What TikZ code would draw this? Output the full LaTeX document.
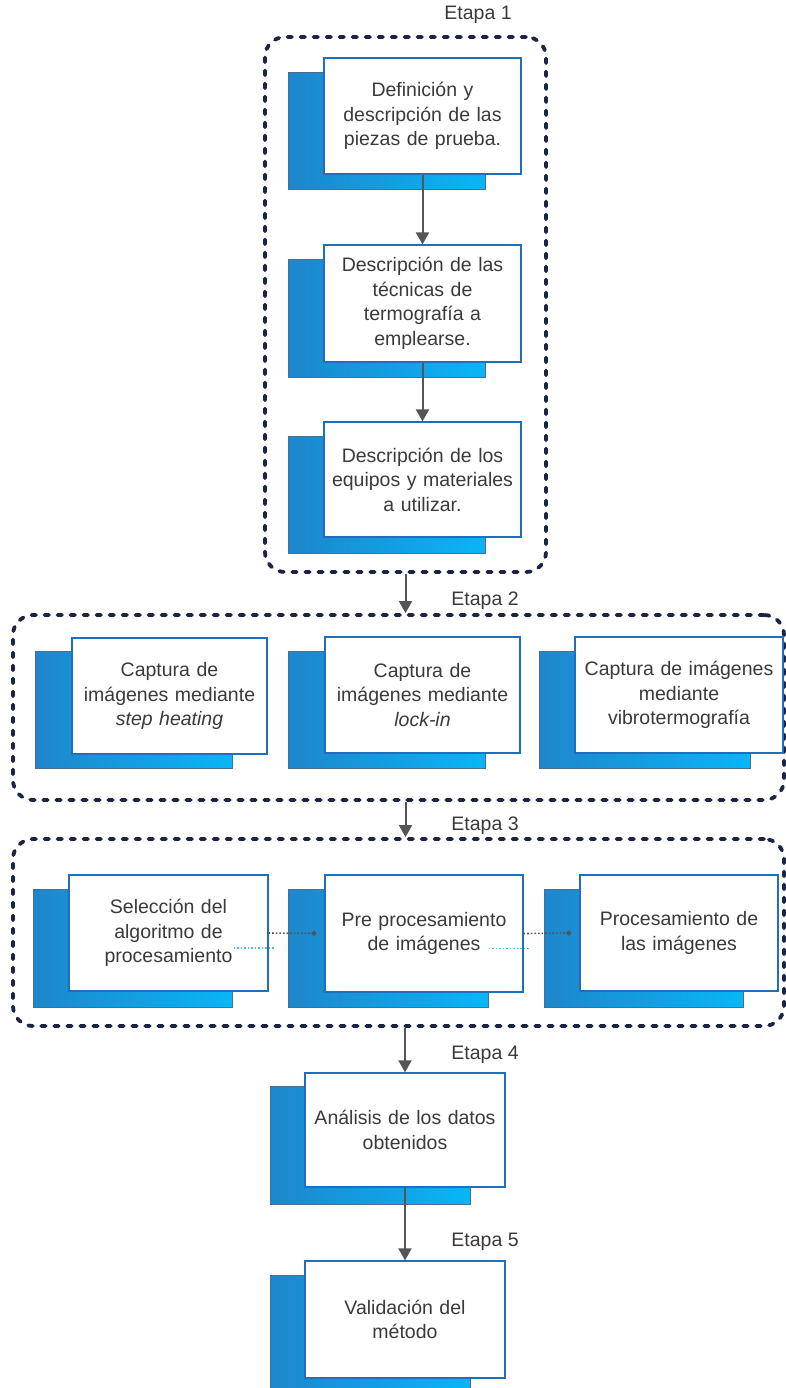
\documentclass[tikz,border=0pt]{standalone}
\usepackage{fontspec}
\setmainfont{Liberation Sans}
\usetikzlibrary{arrows.meta,calc}
\definecolor{framenavy}{HTML}{1B2444}
\definecolor{frontblue}{HTML}{1F6FBF}
\definecolor{shdark}{HTML}{1E86CC}
\definecolor{shlight}{HTML}{08B6F6}
\definecolor{shedge}{HTML}{4A6E90}
\definecolor{txtgray}{HTML}{3A3A3A}
\definecolor{arrgray}{HTML}{555555}
\definecolor{dotcyan}{HTML}{3FC8E0}
\tikzset{
  front/.style={draw=frontblue, line width=1.2pt, fill=white, rectangle, inner sep=2pt,
    align=center, text=txtgray, font=\fontsize{19.5}{24.5}\selectfont},
  shadowbox/.style={draw=shedge, line width=0.8pt, rectangle, left color=shdark, right color=shlight, inner sep=0pt},
  stage/.style={draw=framenavy, line width=3.8pt, dash pattern=on 4.5pt off 8.5pt, line cap=round,
    rounded corners=20pt, rectangle, inner sep=0pt},
  stagelabel/.style={text=txtgray, font=\fontsize{19.5}{24.5}\selectfont, inner sep=0pt},
  flow/.style={draw=arrgray, line width=2pt, -{Triangle[length=12pt,width=13pt]}},
  dotconn/.style={draw=arrgray, line width=1.6pt, dotted, -{Circle[length=5pt]}},
  cyandot/.style={draw=dotcyan, line width=1.5pt, dotted},
}
\begin{document}
\begin{tikzpicture}[x=1pt,y=-1pt]
\useasboundingbox (0,0) rectangle (785,1388);

% ---------- frames ----------
\node[stage, minimum width=281pt, minimum height=535pt] (f1) at (405.5,304.5) {};
\node[stage, minimum width=771pt, minimum height=185pt] (f2) at (398.5,707.5) {};
\node[stage, minimum width=771pt, minimum height=187pt] (f3) at (398.5,932.5) {};

% ---------- labels ----------
\node[stagelabel] (l1) at (478,15) {Etapa 1};
\node[stagelabel] (l2) at (485,601) {Etapa 2};
\node[stagelabel] (l3) at (485,826) {Etapa 3};
\node[stagelabel] (l4) at (485,1055) {Etapa 4};
\node[stagelabel] (l5) at (485,1242) {Etapa 5};

% ---------- Etapa 1 ----------
\node[shadowbox, minimum width=197pt, minimum height=117pt] (n1s) at (387,131) {};
\node[front, minimum width=197pt, minimum height=116pt, text width=188pt] (n1) at (422.5,116)
  {Definición y\\ descripción de las\\ piezas de prueba.};
\node[shadowbox, minimum width=197pt, minimum height=118pt] (n2s) at (387,318) {};
\node[front, minimum width=197pt, minimum height=117pt, text width=188pt] (n2) at (422.5,303.5)
  {Descripción de las\\ técnicas de\\ termografía a\\ emplearse.};
\node[shadowbox, minimum width=197pt, minimum height=117pt] (n3s) at (387,494.5) {};
\node[front, minimum width=197pt, minimum height=115pt, text width=188pt] (n3) at (422.5,479.5)
  {Descripción de los\\ equipos y materiales\\ a utilizar.};

% ---------- Etapa 2 ----------
\node[shadowbox, minimum width=197pt, minimum height=117pt] (e2as) at (133.5,709.5) {};
\node[front, minimum width=195pt, minimum height=116pt, text width=190pt] (e2a) at (169.5,696)
  {Captura de\\ imágenes mediante\\ \textit{step heating}};
\node[shadowbox, minimum width=197pt, minimum height=117pt] (e2bs) at (386.5,709.5) {};
\node[front, minimum width=195pt, minimum height=116pt, text width=190pt] (e2b) at (422.5,695)
  {Captura de\\ imágenes mediante\\ \textit{lock-in}};
\node[shadowbox, minimum width=211pt, minimum height=117pt] (e2cs) at (644.5,709.5) {};
\node[front, minimum width=208pt, minimum height=116pt, text width=200pt] (e2c) at (679,695)
  {Captura de imágenes\\ mediante\\ vibrotermografía};

% ---------- Etapa 3 ----------
\node[shadowbox, minimum width=199pt, minimum height=118pt] (e3as) at (132.5,948) {};
\node[front, minimum width=199pt, minimum height=116pt, text width=190pt] (e3a) at (168.5,933)
  {Selección del\\ algoritmo de\\ procesamiento};
\node[shadowbox, minimum width=200pt, minimum height=118pt] (e3bs) at (388,948) {};
\node[front, minimum width=198pt, minimum height=117pt, text width=190pt] (e3b) at (424,933.5)
  {Pre procesamiento\\ de imágenes};
\node[shadowbox, minimum width=199pt, minimum height=118pt] (e3cs) at (643.5,948) {};
\node[front, minimum width=198pt, minimum height=116pt, text width=190pt] (e3c) at (679,933)
  {Procesamiento de\\ las imágenes};

% dotted connectors inside Etapa 3
\draw[cyandot] ($(e3a.east)+(-35,15)$) coordinate (c1a) -- ($(e3a.east)+(6,15)$) coordinate (c1b);
\draw[dotconn] (e3a.east) -- ($(e3b.west)+(-8,0)$) coordinate (c1e);
\draw[cyandot] ($(e3b.east)+(-35,15)$) coordinate (c2a) -- ($(e3b.east)+(6,15)$) coordinate (c2b);
\draw[dotconn] (e3b.east) -- ($(e3c.west)+(-8,0)$) coordinate (c2e);

% ---------- Etapa 4 and 5 ----------
\node[shadowbox, minimum width=200pt, minimum height=118pt] (n4s) at (370,1145) {};
\node[front, minimum width=200pt, minimum height=114pt, text width=192pt] (n4) at (405,1130)
  {Análisis de los datos\\ obtenidos};
\node[shadowbox, minimum width=200pt, minimum height=118pt] (n5s) at (370,1334) {};
\node[front, minimum width=200pt, minimum height=117pt, text width=192pt] (n5) at (405,1319.5)
  {Validación del\\ método};

% ---------- flow arrows ----------
\draw[flow] (n1.south) -- (n2.north);
\draw[flow] (n2.south) -- (n3.north);
\draw[flow] (f1.south) -- (f1.south |- f2.north);
\draw[flow] (f1.south |- f2.south) -- (f1.south |- f3.north);
\draw[flow] (n4.north |- f3.south) -- (n4.north);
\draw[flow] (n4.south) -- (n5.north);
\end{tikzpicture}
\end{document}
